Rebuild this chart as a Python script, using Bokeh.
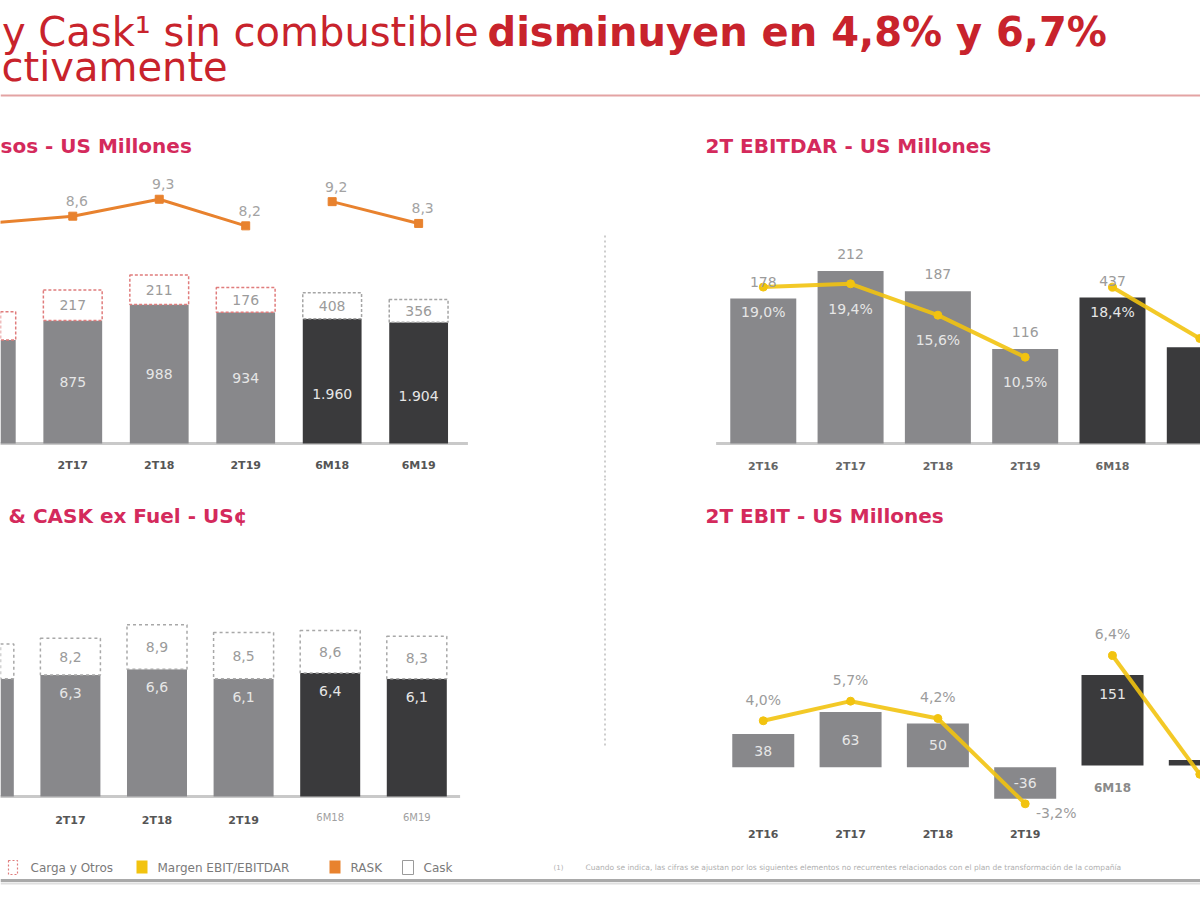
from bokeh.plotting import figure
from bokeh.layouts import column, row
from bokeh.models import Range1d, ColumnDataSource
from bokeh.core.properties import value
from bokeh.embed import file_html
from bokeh.resources import INLINE

# ---------------- data ----------------
categories = ["2T16", "2T17", "2T18", "2T19", "6M18", "6M19"]
period = ["2T", "2T", "2T", "2T", "6M", "6M"]

# Ingresos - US Millones
pasajeros = [737, 875, 988, 934, 1960, 1904]
carga_otros = [200, 217, 211, 176, 408, 356]
rask = [8.3, 8.6, 9.3, 8.2, 9.2, 8.3]

# 2T EBITDAR - US Millones
ebitdar = [178, 212, 187, 116, 437, 288]
ebitdar_margin = [19.0, 19.4, 15.6, 10.5, 18.4, 12.7]

# RASK & CASK ex Fuel - US cents
cask_ex_fuel = [6.1, 6.3, 6.6, 6.1, 6.4, 6.1]
cask = [7.9, 8.2, 8.9, 8.5, 8.6, 8.3]

# 2T EBIT - US Millones
ebit = [38, 63, 50, -36, 151, 9]
ebit_margin = [4.0, 5.7, 4.2, -3.2, 6.4, 0.4]

header_regular = "y Cask\u00b9 sin combustible"
header_bold = "disminuyen en 4,8% y 6,7%"
header_line2 = "ctivamente"
legend_items = ["Carga y Otros", "Margen EBIT/EBITDAR", "RASK", "Cask"]
footnote = ("Cuando se indica, las cifras se ajustan por los siguientes elementos no recurrentes "
            "relacionados con el plan de transformaci\u00f3n de la compa\u00f1\u00eda")

# ---------------- styles ----------------
GREY = "#88888b"
DARK = "#3a3a3c"
ORANGE = "#e8822e"
YELLOW = "#f2c30f"
RED_T = "#c8232c"
PINK_T = "#d42a5c"
LBL_IN = "#e6e6e6"
LBL_OUT = "#9b9b9b"
FONT = "DejaVu Sans"


def fmt_dec(v):
    return f"{v:.1f}".replace(".", ",")


def fmt_int(v):
    s = f"{abs(v):,}".replace(",", ".")
    return ("-" if v < 0 else "") + s


def fmt_pct(v):
    return fmt_dec(v) + "%"


def pick(lst, ids):
    return [lst[i] for i in ids]


g2t = [i for i, pp in enumerate(period) if pp == "2T"]
g6m = [i for i, pp in enumerate(period) if pp == "6M"]


def make_fig(geom):
    left, top, w, h, xr, yr = geom
    p = figure(width=w, height=h, x_range=Range1d(*xr), y_range=Range1d(*yr),
               output_backend="svg", toolbar_location=None,
               x_axis_location=None, y_axis_location=None, min_border=0,
               outline_line_color=None, background_fill_color="white",
               border_fill_color="white")
    p.xgrid.visible = False
    p.ygrid.visible = False
    return p


def to_data(geom, rx, ry):
    left, top, w, h, xr, yr = geom
    x = xr[0] + (rx - left) / w * (xr[1] - xr[0])
    y = yr[1] - (ry - top) / h * (yr[1] - yr[0])
    return x, y


def vis(geom, ids):
    """categories whose centre lies well inside the panel (labels not clipped)"""
    left, top, w, h, xr, yr = geom
    out = []
    for i in ids:
        px = (i - xr[0]) / (xr[1] - xr[0]) * w
        if 22 < px < w - 22:
            out.append(i)
    return out


def txt(p, x, y, t, size, color, bold=False, align="center", baseline="middle",
        xo=0, yo=0, rng="default", font=FONT):
    n = len(t)
    if n == 0:
        return
    xo_l = xo if isinstance(xo, list) else [xo] * n
    yo_l = yo if isinstance(yo, list) else [yo] * n
    src = ColumnDataSource(dict(x=list(x), y=list(y), t=list(t), xo=xo_l, yo=yo_l))
    p.text(x="x", y="y", text="t", source=src, x_offset="xo", y_offset="yo",
           text_font=value(font), text_font_size=f"{size}px", text_color=color,
           text_font_style="bold" if bold else "normal", text_align=align,
           text_baseline=baseline, y_range_name=rng)


def title(p, geom, rx, ry, t):
    x, y = to_data(geom, rx, ry)
    txt(p, [x], [y], [t], 20, PINK_T, bold=True, align="left")


# ---------------- geometry (left, top, width, height, xrange, yrange) ----------------
HD = (0, 0, 1200, 100, (0, 1200), (100, 0))
TL = (0, 100, 603, 378, (0.1642, 7.138), (-249, 2440))
TR = (603, 100, 597, 378, (-1.830, 5.008), (-43, 421.4))
BL = (0, 478, 603, 372, (0.1928, 7.156), (-2.80, 16.48))
BR = (603, 478, 597, 372, (-1.830, 5.008), (-95.1, 329.6))
LG = (0, 850, 1200, 46, (0, 1200), (896, 850))

# ---------------- header ----------------
hd = make_fig(HD)
txt(hd, [478], [31.7], [header_regular], 40, RED_T, align="right", baseline="alphabetic")
txt(hd, [487], [31.7], [header_bold], 40, RED_T, bold=True, align="left", baseline="alphabetic")
txt(hd, [1], [66.7], [header_line2], 40, RED_T, align="left", baseline="alphabetic")
hd.segment(x0=[0], y0=[95], x1=[1200], y1=[95], line_color="#e3a3a3", line_width=2)

# ---------------- top-left: Ingresos ----------------
tl = make_fig(TL)
tl.extra_y_ranges = {"b6m": Range1d(-549, 5385), "rask": Range1d(-2.24, 13.38)}
tl.segment(x0=[g2t[0] - 0.6], y0=[0], x1=[g6m[-1] + 0.57], y1=[0],
           line_color="#c9c9c9", line_width=3)
W1 = 0.68
for ids, rng, col, boxcol in ((g2t, "default", GREY, "#e07c7c"), (g6m, "b6m", DARK, "#a5a5a5")):
    pas = pick(pasajeros, ids)
    car = pick(carga_otros, ids)
    tot = [a + b for a, b in zip(pas, car)]
    tl.vbar(x=ids, bottom=0, top=pas, width=W1, fill_color=col, line_color=None, y_range_name=rng)
    tl.vbar(x=ids, bottom=pas, top=tot, width=W1, fill_color="white", line_color=boxcol,
            line_dash="3 2", line_width=1.5, y_range_name=rng)
    r = pick(rask, ids)
    tl.line(x=ids, y=r, line_color=ORANGE, line_width=3, y_range_name="rask")
    tl.scatter(x=ids, y=r, marker="square", size=8, fill_color=ORANGE, line_color=ORANGE,
               y_range_name="rask")
    v_ids = vis(TL, ids)
    vp = pick(pasajeros, v_ids)
    vc = pick(carga_otros, v_ids)
    vr = pick(rask, v_ids)
    txt(tl, v_ids, [v / 2 for v in vp], [fmt_int(v) for v in vp], 14, LBL_IN,
        yo=(0 if rng == "default" else 13), rng=rng)
    txt(tl, v_ids, [a + b / 2 for a, b in zip(vp, vc)], [fmt_int(v) for v in vc], 14,
        LBL_OUT, rng=rng)
    txt(tl, v_ids, vr, [fmt_dec(v) for v in vr], 14, "#a3a3a3", xo=4, yo=-15, rng="rask")
    txt(tl, v_ids, [0] * len(v_ids), pick(categories, v_ids), 11, "#555555", bold=True, yo=22)
title(tl, TL, 0, 145, "sos - US Millones")

# ---------------- top-right: EBITDAR ----------------
tr = make_fig(TR)
tr.extra_y_ranges = {"b6m": Range1d(-104.8, 1027), "m2t": Range1d(-4.2, 41.62),
                     "m6m": Range1d(-2.86, 39.14)}
tr.segment(x0=[g2t[0] - 0.54], y0=[0], x1=[g6m[-1] + 0.6], y1=[0],
           line_color="#c9c9c9", line_width=3)
sx, sy0 = to_data(TR, 604.5, 235)
tr.segment(x0=[sx], y0=[sy0], x1=[sx], y1=[-43], line_color="#bdbdbd", line_width=1.5,
           line_dash="2 3")
W2 = 0.756
for ids, rng, mrng, col in ((g2t, "default", "m2t", GREY), (g6m, "b6m", "m6m", DARK)):
    v = pick(ebitdar, ids)
    m = pick(ebitdar_margin, ids)
    tr.vbar(x=ids, bottom=0, top=v, width=W2, fill_color=col, line_color=None, y_range_name=rng)
    tr.line(x=ids, y=m, line_color=YELLOW, line_width=4, line_alpha=0.9, y_range_name=mrng)
    tr.scatter(x=ids, y=m, marker="circle", size=8, fill_color=YELLOW, line_color=YELLOW,
               y_range_name=mrng)
    v_ids = vis(TR, ids)
    vv = pick(ebitdar, v_ids)
    vm = pick(ebitdar_margin, v_ids)
    txt(tr, v_ids, vv, [fmt_int(a) for a in vv], 14, LBL_OUT, yo=-17, rng=rng)
    txt(tr, v_ids, vm, [fmt_pct(a) for a in vm], 14, LBL_IN, yo=25, rng=mrng)
    txt(tr, v_ids, [0] * len(v_ids), pick(categories, v_ids), 11, "#666666", bold=True, yo=23)
title(tr, TR, 705, 145, "2T EBITDAR - US Millones")

# ---------------- bottom-left: RASK & CASK ex Fuel ----------------
bl = make_fig(BL)
bl.segment(x0=[g2t[0] - 0.6], y0=[0], x1=[g6m[-1] + 0.5], y1=[0],
           line_color="#c9c9c9", line_width=3)
W3 = 0.693
for ids, col in ((g2t, GREY), (g6m, DARK)):
    cx = pick(cask_ex_fuel, ids)
    ck = pick(cask, ids)
    bl.vbar(x=ids, bottom=0, top=cx, width=W3, fill_color=col, line_color=None)
    bl.vbar(x=ids, bottom=cx, top=ck, width=W3, fill_color="white", line_color="#a8a8a8",
            line_dash="3 3", line_width=1.5)
    v_ids = vis(BL, ids)
    vx = pick(cask_ex_fuel, v_ids)
    vk = pick(cask, v_ids)
    txt(bl, v_ids, vx, [fmt_dec(a) for a in vx], 14, LBL_IN, yo=18)
    txt(bl, v_ids, [(a + b) / 2 for a, b in zip(vx, vk)], [fmt_dec(a) for a in vk], 14, LBL_OUT)
v2 = vis(BL, g2t)
v6 = vis(BL, g6m)
txt(bl, v2, [0] * len(v2), pick(categories, v2), 11, "#555555", bold=True, yo=24)
txt(bl, v6, [0] * len(v6), pick(categories, v6), 10, "#a0a0a0", yo=21)
title(bl, BL, 8, 515, "& CASK ex Fuel - US\u00a2")

# ---------------- bottom-right: EBIT ----------------
br = make_fig(BR)
br.extra_y_ranges = {"b6m": Range1d(-141.7, 478.3), "m2t": Range1d(-7.25, 25.01),
                     "m6m": Range1d(-3.45, 15.34)}
sx, sy1 = to_data(BR, 604.5, 745)
br.segment(x0=[sx], y0=[329.6], x1=[sx], y1=[sy1], line_color="#bdbdbd", line_width=1.5,
           line_dash="2 3")
W4 = 0.71
for ids, rng, mrng, col in ((g2t, "default", "m2t", GREY), (g6m, "b6m", "m6m", DARK)):
    v = pick(ebit, ids)
    m = pick(ebit_margin, ids)
    br.vbar(x=ids, bottom=0, top=v, width=W4, fill_color=col, line_color=None, y_range_name=rng)
    br.line(x=ids, y=m, line_color=YELLOW, line_width=4, line_alpha=0.9, y_range_name=mrng)
    br.scatter(x=ids, y=m, marker="circle", size=8, fill_color=YELLOW, line_color=YELLOW,
               y_range_name=mrng)
    v_ids = vis(BR, ids)
    big = [i for i in v_ids if abs(ebit[i]) >= 20]
    bv = pick(ebit, big)
    if rng == "default":
        txt(br, big, [a / 2 for a in bv], [fmt_int(a) for a in bv], 14, LBL_IN, rng=rng)
    else:
        txt(br, big, bv, [fmt_int(a) for a in bv], 14, LBL_IN, yo=19, rng=rng)
    vm = pick(ebit_margin, v_ids)
    txt(br, v_ids, vm, [fmt_pct(a) for a in vm], 14, LBL_OUT,
        xo=[31 if a < 0 else 0 for a in vm], yo=[9 if a < 0 else -21 for a in vm], rng=mrng)
v2 = vis(BR, g2t)
v6 = vis(BR, g6m)
low2t = min(0, min(pick(ebit, g2t)))
txt(br, v2, [low2t] * len(v2), pick(categories, v2), 11, "#555555", bold=True, yo=36)
txt(br, v6, [0] * len(v6), pick(categories, v6), 12, "#8a8a8a", bold=True, yo=23, rng="b6m")
title(br, BR, 705, 515, "2T EBIT - US Millones")

# ---------------- legend strip ----------------
lg = make_fig(LG)
lg.quad(left=[8], right=[17], top=[860], bottom=[874], fill_color="white",
        line_color="#e07c7c", line_dash="2 2", line_width=1.2)
lg.quad(left=[136], right=[147], top=[860], bottom=[873], fill_color=YELLOW, line_color=None)
lg.quad(left=[329], right=[340], top=[860], bottom=[873], fill_color=ORANGE, line_color=None)
lg.quad(left=[402], right=[413], top=[860], bottom=[874], fill_color="white",
        line_color="#9a9a9a", line_width=1)
txt(lg, [30, 157, 350, 423], [867] * 4, legend_items, 12, "#7a7a7a", align="left")
txt(lg, [553], [867], ["(1)"], 7, "#b0b0b0", align="left")
txt(lg, [585], [867], [footnote], 7.5, "#b0b0b0", align="left")
lg.segment(x0=[0], y0=[880], x1=[1200], y1=[880], line_color="#a9a9a9", line_width=3)
lg.segment(x0=[0], y0=[883], x1=[1200], y1=[883], line_color="#dedede", line_width=2)

layout = column(hd, row(tl, tr), row(bl, br), lg)
open("out.html", "w").write(file_html(layout, INLINE))
